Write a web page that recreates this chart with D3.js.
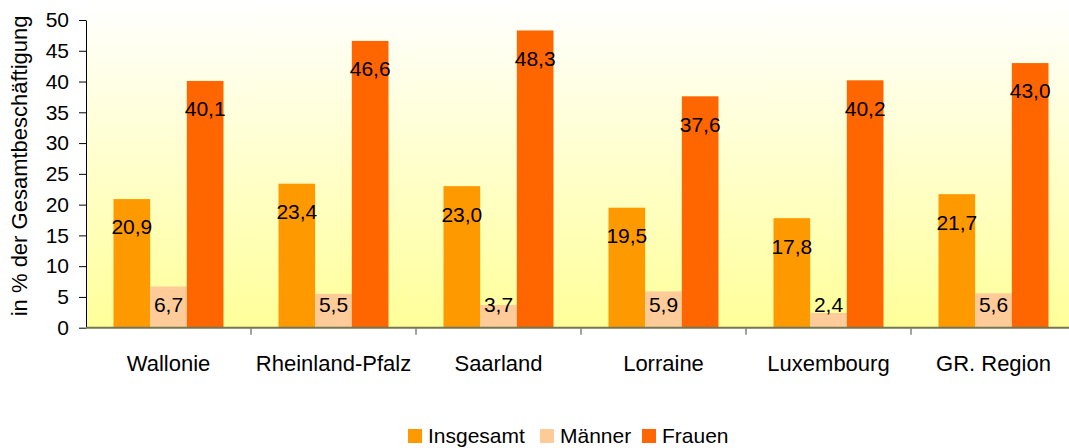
<!DOCTYPE html>
<html>
<head>
<meta charset="utf-8">
<script src="https://cdn.jsdelivr.net/npm/d3@7"></script>
<style>
  body { margin: 0; background: #fff; }
  svg { display: block; font-family: "Liberation Sans", Arial, sans-serif; }
</style>
</head>
<body>
<svg id="chart" width="1069" height="448"></svg>
<script>
// data
const categories = ["Wallonie", "Rheinland-Pfalz", "Saarland", "Lorraine", "Luxembourg", "GR. Region"];
const seriesNames = ["Insgesamt", "Männer", "Frauen"];
const insgesamt = [20.9, 23.4, 23.0, 19.5, 17.8, 21.7];
const maenner = [6.7, 5.5, 3.7, 5.9, 2.4, 5.6];
const frauen = [40.1, 46.6, 48.3, 37.6, 40.2, 43.0];
const yTicks = [0, 5, 10, 15, 20, 25, 30, 35, 40, 45, 50];

const colors = { "Insgesamt": "#ff9900", "Männer": "#ffcc99", "Frauen": "#ff6600" };
const values = { "Insgesamt": insgesamt, "Männer": maenner, "Frauen": frauen };

const margin = { top: 20, left: 86, bottom: 120 };
const plotRight = 1076; // plot area runs slightly past the picture edge
const height = 448;

const svg = d3.select('#chart');

// background gradient of the plot area
const grad = svg.append('defs').append('linearGradient')
  .attr('id', 'bg').attr('x1', 0).attr('y1', 0).attr('x2', 0).attr('y2', 1);
grad.append('stop').attr('offset', '0%').attr('stop-color', '#ffffff');
grad.append('stop').attr('offset', '100%').attr('stop-color', '#ffff99');

const x = d3.scaleBand()
  .domain(categories)
  .range([margin.left, plotRight]);

const xSub = d3.scaleBand()
  .domain(seriesNames)
  .range([x.bandwidth() / 6, x.bandwidth() * 5 / 6]);

const y = d3.scaleLinear()
  .domain([0, 50])
  .range([height - margin.bottom - 0.3, margin.top]);

svg.append('rect')
  .attr('x', margin.left).attr('y', 0)
  .attr('width', plotRight - margin.left).attr('height', y(0))
  .attr('fill', 'url(#bg)');

// bars
const rows = categories.map((c, i) => ({ cat: c, i }));
const groups = svg.append('g').selectAll('g')
  .data(rows)
  .join('g')
  .attr('transform', d => 'translate(' + x(d.cat) + ',0)');

groups.selectAll('rect')
  .data(d => seriesNames.map(s => ({ s, v: values[s][d.i] })))
  .join('rect')
  .attr('x', d => xSub(d.s))
  .attr('y', d => y(d.v))
  .attr('width', xSub.bandwidth())
  .attr('height', d => y(0) - y(d.v))
  .attr('fill', d => colors[d.s]);

const fmt = v => d3.format('.1f')(v).replace('.', ',');

groups.selectAll('text')
  .data(d => seriesNames.map(s => ({ s, v: values[s][d.i] })))
  .join('text')
  .attr('x', d => xSub(d.s) + xSub.bandwidth() / 2)
  .attr('y', d => Math.min(y(d.v) + 28, y(0) - 23))
  .attr('dy', '0.35em')
  .attr('text-anchor', 'middle')
  .attr('font-size', 21)
  .attr('fill', '#000')
  .text(d => fmt(d.v));

// y axis
const yAxis = svg.append('g')
  .attr('transform', 'translate(' + margin.left + ',0)')
  .call(d3.axisLeft(y).tickValues(yTicks).tickSize(7).tickPadding(10).tickSizeOuter(0));
yAxis.select('.domain').attr('stroke', '#000');
yAxis.selectAll('.tick line').attr('stroke', '#000');
yAxis.selectAll('text').attr('font-size', 21).attr('fill', '#000')
  .attr('font-family', '"Liberation Sans", Arial, sans-serif');

// x axis: baseline, ticks at group boundaries, labels centred
svg.append('line')
  .attr('x1', margin.left).attr('x2', plotRight)
  .attr('y1', y(0)).attr('y2', y(0))
  .attr('stroke', '#757550').attr('stroke-width', 2);

svg.append('g').selectAll('line')
  .data(categories)
  .join('line')
  .attr('x1', d => x(d) + x.bandwidth()).attr('x2', d => x(d) + x.bandwidth())
  .attr('y1', y(0) + 1).attr('y2', y(0) + 7)
  .attr('stroke', '#444');

svg.append('g').selectAll('text')
  .data(categories)
  .join('text')
  .attr('x', d => x(d) + x.bandwidth() / 2)
  .attr('y', 371)
  .attr('text-anchor', 'middle')
  .attr('font-size', 22)
  .text(d => d);

// y title
svg.append('text')
  .attr('transform', 'translate(27,' + ((y(0) + margin.top) / 2 - 8) + ') rotate(-90)')
  .attr('text-anchor', 'middle')
  .attr('font-size', 22)
  .text('in % der Gesamtbeschäftigung');

// legend
const legendX = [408, 540, 642];
const legend = svg.append('g').selectAll('g')
  .data(seriesNames)
  .join('g')
  .attr('transform', (d, i) => 'translate(' + legendX[i] + ',429)');
legend.append('rect')
  .attr('width', 14).attr('height', 14)
  .attr('fill', d => colors[d]);
legend.append('text')
  .attr('x', 20).attr('y', 14)
  .attr('font-size', 21)
  .text(d => d);
</script>
</body>
</html>
